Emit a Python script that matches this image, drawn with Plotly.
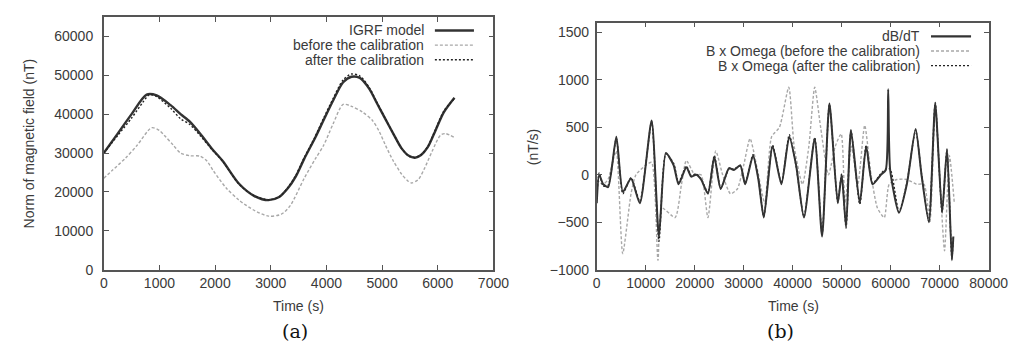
import plotly.graph_objects as go

# ---------- (a) Norm of magnetic field ----------
t_igrf = [0, 250, 500, 770, 950, 1200, 1380, 1550, 1730, 1950, 2140, 2430, 2700, 2960, 3150, 3310, 3450, 3600, 3800, 3950, 4120, 4300, 4450, 4600, 4770, 4900, 5060, 5200, 5350, 5480, 5590, 5700, 5820, 5950, 6110, 6300]
igrf = [30000, 35000, 40000, 45000, 44800, 42300, 40000, 38000, 35000, 31000, 27900, 22100, 19000, 17900, 18700, 21000, 24000, 28500, 34000, 38500, 43500, 48200, 49600, 49300, 46500, 43000, 38700, 35000, 31200, 29300, 28800, 29500, 31500, 35500, 40500, 44200]

t_before = [0, 150, 390, 600, 860, 1000, 1090, 1250, 1380, 1550, 1730, 1850, 1970, 2200, 2430, 2700, 2960, 3190, 3350, 3600, 3800, 3950, 4120, 4300, 4450, 4650, 4830, 4950, 5060, 5200, 5350, 5450, 5530, 5650, 5760, 5900, 6050, 6140, 6300]
before = [23500, 25500, 28700, 32000, 36500, 35800, 34500, 32000, 30000, 29300, 29200, 28000, 25400, 21000, 17900, 15300, 13800, 14300, 16500, 23500, 28500, 32000, 37500, 42500, 42000, 40500, 38300, 35500, 32000, 28000, 24600, 23000, 22300, 23200, 26000, 30500, 34600, 35000, 34000]

t_after = [0, 250, 500, 700, 820, 950, 1200, 1380, 1550, 1730, 1950, 2140, 2430, 2700, 2960, 3150, 3310, 3450, 3600, 3800, 3950, 4120, 4300, 4450, 4600, 4770, 4900, 5060, 5200, 5350, 5480, 5590, 5700, 5820, 5950, 6110, 6300]
after = [30000, 34500, 39000, 43000, 45000, 44500, 41500, 38800, 37300, 34500, 30800, 27800, 22000, 19000, 18000, 18700, 21200, 24300, 28800, 34300, 39000, 44000, 48800, 50300, 49800, 46800, 43200, 38800, 35000, 31200, 29200, 28900, 29600, 31700, 35800, 40800, 44000]

# ---------- (b) dB/dT ----------
t_dbdt = [0, 500, 1330, 2330, 4000, 5330, 7000, 8800, 11200, 12700, 14100, 15700, 16700, 18300, 19300, 20300, 21300, 22700, 24000, 25300, 27000, 28000, 29300, 30300, 31900, 33000, 34100, 35900, 37700, 39300, 40700, 42300, 44500, 46000, 47500, 49200, 50000, 50900, 51900, 53700, 55000, 56300, 58000, 59000, 59500, 59900, 61700, 63300, 65100, 66300, 67800, 69100, 70500, 71500, 72500, 72800]
dbdt = [-300, 0, -100, -130, 400, -180, -40, -300, 570, -650, 230, 100, -100, 80, -20, 0, -50, -200, 190, -150, 70, 50, 100, -100, 200, -50, -450, 300, -100, 400, 100, -450, 380, -650, 750, -300, 0, -550, 470, -300, 300, -100, 0, 50, 900, 50, -400, -100, 480, 0, -500, 750, -400, 270, -900, -650]

t_bw_before = [0, 1300, 2300, 3300, 4000, 5300, 7000, 8000, 10000, 11200, 12500, 13300, 16000, 17300, 18300, 20000, 21300, 22700, 24300, 25700, 27300, 28700, 30000, 31300, 33000, 34300, 35700, 37300, 39200, 40300, 42000, 43300, 44500, 45700, 47300, 48700, 49900, 50700, 52000, 53300, 54700, 56000, 57300, 58700, 59700, 61300, 63300, 65300, 66800, 68000, 69100, 70000, 71000, 72000, 73000]
bw_before = [-50, -100, -50, 150, 250, -830, -200, 0, 100, 130, -900, -350, -450, -100, 150, 0, 0, -450, 250, 0, -200, -150, 100, 380, 0, -300, 400, 500, 920, 300, -100, 300, 920, 500, 0, 300, 430, -300, 300, -100, 520, 0, -350, -450, -100, -50, -50, -100, -100, -500, 700, 0, -800, 200, -300]

t_bw_after = [0, 500, 1330, 2330, 4000, 5330, 7000, 8800, 11200, 12700, 14100, 15700, 16700, 18300, 19300, 20300, 21300, 22700, 24000, 25300, 27000, 28000, 29300, 30300, 31900, 33000, 34100, 35900, 37700, 39300, 40700, 42300, 44500, 46000, 47500, 49200, 50000, 50900, 51900, 53700, 55000, 56300, 58000, 59000, 59900, 61700, 63300, 65100, 66300, 67800, 69100, 70500, 71500, 72500, 72800]
bw_after = [-250, 20, -120, -110, 380, -200, -30, -280, 560, -700, 220, 120, -80, 90, -10, 10, -40, -190, 200, -140, 60, 60, 90, -90, 210, -40, -440, 310, -90, 420, 90, -440, 390, -630, 740, -290, 10, -560, 460, -310, 310, -90, 10, 60, 60, -390, -90, 470, 10, -490, 760, -390, 260, -880, -660]

legend_a = ["IGRF model", "before the calibration", "after the calibration"]
legend_b = ["dB/dT", "B x Omega (before the calibration)", "B x Omega (after the calibration)"]

SOLID = dict(color="#333333", width=2.4, dash="solid")
BEFORE = dict(color="#a8a8a8", width=1.4, dash="3px,2px")
AFTER = dict(color="#222222", width=1.4, dash="2px,2px")
styles = [SOLID, BEFORE, AFTER]

fig = go.Figure()
fig.add_trace(go.Scatter(x=t_igrf, y=igrf, mode="lines", line=dict(SOLID, shape="spline", smoothing=0.8), xaxis="x", yaxis="y", showlegend=False))
fig.add_trace(go.Scatter(x=t_before, y=before, mode="lines", line=dict(BEFORE, shape="spline", smoothing=0.8), xaxis="x", yaxis="y", showlegend=False))
fig.add_trace(go.Scatter(x=t_after, y=after, mode="lines", line=dict(AFTER, shape="spline", smoothing=0.8), xaxis="x", yaxis="y", showlegend=False))

fig.add_trace(go.Scatter(x=t_bw_before, y=bw_before, mode="lines", line=dict(BEFORE, shape="spline", smoothing=0.6), xaxis="x2", yaxis="y2", showlegend=False))
fig.add_trace(go.Scatter(x=t_bw_after, y=bw_after, mode="lines", line=dict(AFTER, shape="spline", smoothing=0.6), xaxis="x2", yaxis="y2", showlegend=False))
fig.add_trace(go.Scatter(x=t_dbdt, y=dbdt, mode="lines", line=dict(color="#333333", width=2.0, shape="spline", smoothing=0.6), xaxis="x2", yaxis="y2", showlegend=False))

FONT = "Liberation Sans, Arial"
tickfont = dict(family=FONT, size=14, color="#3a3a3a")
axcommon = dict(showline=True, linecolor="#555555", linewidth=1.6, mirror="ticks",
                ticks="inside", ticklen=5, tickwidth=1.2, tickcolor="#555555",
                showgrid=False, zeroline=False, tickfont=tickfont, tickformat="d")

fig.update_layout(
    width=1027, height=347, margin=dict(l=0, r=0, t=0, b=0),
    paper_bgcolor="white", plot_bgcolor="white",
    xaxis=dict(domain=[0.0915, 0.480], range=[0, 7000], dtick=1000, anchor="y", **axcommon),
    yaxis=dict(domain=[0.2277, 0.974], range=[0, 65000], tickvals=[0, 10000, 20000, 30000, 40000, 50000, 60000],
               anchor="x", ticklabelstandoff=6, **axcommon),
    xaxis2=dict(domain=[0.583, 0.9737], range=[0, 80000], dtick=10000, anchor="y2", **axcommon),
    yaxis2=dict(domain=[0.2277, 0.9568], range=[-1000, 1600], tickvals=[-1000, -500, 0, 500, 1000, 1500],
                anchor="x2", ticklabelstandoff=3, **axcommon),
)

titlefont = dict(family=FONT, size=14, color="#3a3a3a")
# axis titles
fig.add_annotation(x=293 / 1027, y=1 - 305 / 347, xref="paper", yref="paper", text="Time (s)", showarrow=False,
                   xanchor="center", yanchor="middle", font=titlefont)
fig.add_annotation(x=800 / 1027, y=1 - 305 / 347, xref="paper", yref="paper", text="Time (s)", showarrow=False,
                   xanchor="center", yanchor="middle", font=titlefont)
fig.add_annotation(x=17 / 1027, y=1 - 139 / 347, xref="paper", yref="paper", text="Norm of magnetic field (nT)",
                   showarrow=False, textangle=-90, xanchor="center", yanchor="middle", font=titlefont)
fig.add_annotation(x=533 / 1027, y=1 - 142 / 347, xref="paper", yref="paper", text="(nT/s)",
                   showarrow=False, textangle=-90, xanchor="center", yanchor="middle", font=titlefont)

legfont = dict(family=FONT, size=14, color="#3a3a3a")
# legend (a): text right-aligned, sample on the right
for i, (name, st) in enumerate(zip(legend_a, styles)):
    ypix = 23 + 15 * i
    yp = 1 - ypix / 347
    fig.add_annotation(x=424 / 1027, y=yp, xref="paper", yref="paper", text=name, showarrow=False,
                       xanchor="right", yanchor="middle", font=legfont)
    fig.add_shape(type="line", xref="paper", yref="paper", x0=433 / 1027, x1=473 / 1027, y0=yp, y1=yp,
                  line=st)
for i, (name, st) in enumerate(zip(legend_b, styles)):
    ypix = 29 + 15 * i
    yp = 1 - ypix / 347
    fig.add_annotation(x=932 / 1027, y=yp, xref="paper", yref="paper", text=name, showarrow=False,
                       xanchor="right", yanchor="middle", font=legfont)
    fig.add_shape(type="line", xref="paper", yref="paper", x0=941 / 1027, x1=982 / 1027, y0=yp, y1=yp,
                  line=st)

capfont = dict(family="DejaVu Serif, Liberation Serif", size=19, color="#111111")
fig.add_annotation(x=290 / 1027, y=1 - 331 / 347, xref="paper", yref="paper", text="(a)", showarrow=False,
                   xanchor="center", yanchor="middle", font=capfont)
fig.add_annotation(x=787 / 1027, y=1 - 331 / 347, xref="paper", yref="paper", text="(b)", showarrow=False,
                   xanchor="center", yanchor="middle", font=capfont)

fig.write_html("out.html")
